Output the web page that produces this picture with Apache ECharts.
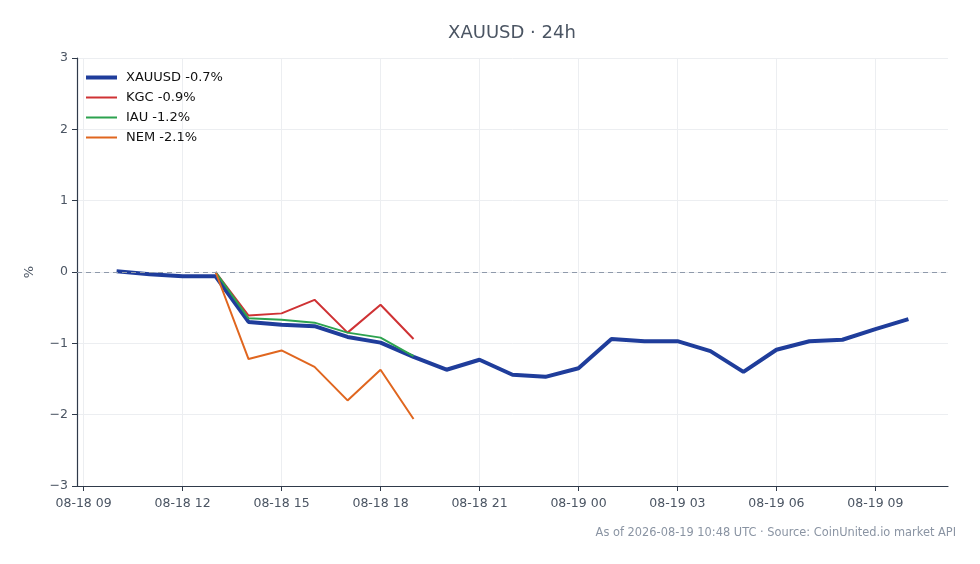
<!DOCTYPE html>
<html>
<head>
<meta charset="utf-8">
<script src="https://cdn.jsdelivr.net/npm/echarts@6/dist/echarts.min.js"></script>
<style>
  html, body { margin: 0; padding: 0; background: #fff; }
  #main { width: 980px; height: 564px; }
</style>
</head>
<body>
<div id="main"></div>
<script>
// hourly samples, UTC
var times = [
    '2026-08-18T10:00Z', '2026-08-18T11:00Z', '2026-08-18T12:00Z', '2026-08-18T13:00Z',
    '2026-08-18T14:00Z', '2026-08-18T15:00Z', '2026-08-18T16:00Z', '2026-08-18T17:00Z',
    '2026-08-18T18:00Z', '2026-08-18T19:00Z', '2026-08-18T20:00Z', '2026-08-18T21:00Z',
    '2026-08-18T22:00Z', '2026-08-18T23:00Z', '2026-08-19T00:00Z', '2026-08-19T01:00Z',
    '2026-08-19T02:00Z', '2026-08-19T03:00Z', '2026-08-19T04:00Z', '2026-08-19T05:00Z',
    '2026-08-19T06:00Z', '2026-08-19T07:00Z', '2026-08-19T08:00Z', '2026-08-19T09:00Z',
    '2026-08-19T10:00Z'
];
var xauusd = [0.01, -0.03, -0.06, -0.06, -0.70, -0.74, -0.76, -0.91, -0.99, -1.19, -1.37, -1.23,
    -1.44, -1.47, -1.35, -0.94, -0.97, -0.97, -1.11, -1.40, -1.09, -0.97, -0.95, -0.80, -0.66];
// stocks only trade 13:00 - 19:00
var stockTimes = times.slice(3, 10);
var kgc = [0.0, -0.61, -0.58, -0.39, -0.85, -0.46, -0.94];
var iau = [0.0, -0.65, -0.67, -0.71, -0.85, -0.92, -1.18];
var nem = [0.0, -1.22, -1.10, -1.33, -1.80, -1.37, -2.06];

var names = ['XAUUSD -0.7%', 'KGC -0.9%', 'IAU -1.2%', 'NEM -2.1%'];
var colors = ['#1f3d9b', '#cf3234', '#2ca24f', '#e0661f'];
var tickTimes = [
    '2026-08-18T09:00Z', '2026-08-18T12:00Z', '2026-08-18T15:00Z', '2026-08-18T18:00Z',
    '2026-08-18T21:00Z', '2026-08-19T00:00Z', '2026-08-19T03:00Z', '2026-08-19T06:00Z',
    '2026-08-19T09:00Z'
];

var ms = function (s) { return Date.parse(s); };
var pad = function (n) { return (n < 10 ? '0' : '') + n; };
var fmtTime = function (v) {
    var d = new Date(v);
    return pad(d.getUTCMonth() + 1) + '-' + pad(d.getUTCDate()) + ' ' + pad(d.getUTCHours());
};
var pairs = function (ts, vals) {
    return vals.map(function (v, i) { return [ms(ts[i]), v]; });
};

var span = ms(times[times.length - 1]) - ms(times[0]);
var xMin = ms(times[0]) - span * 0.05;
var xMax = ms(times[times.length - 1]) + span * 0.05;
var tickVals = tickTimes.map(ms);

// legend swatches: thick for the spot price, thin for the stocks
var thickIcon = 'path://M0,0h31v4h-31z';
var thinIcon = 'path://M0,0L31,0L0,0ZM0,1h31v2h-31zM0,4L31,4L0,4Z';

var font = 'DejaVu Sans';
var chart = echarts.init(document.getElementById('main'), null, { renderer: 'canvas' });
var option = {
    backgroundColor: '#ffffff',
    animation: false,
    textStyle: { fontFamily: font },
    title: {
        text: 'XAUUSD · 24h',
        left: 507,
        top: 19,
        textAlign: 'center',
        textStyle: { fontFamily: font, fontSize: 18, fontWeight: 'normal', color: '#4b5563' }
    },
    legend: {
        left: 81,
        top: 66,
        orient: 'vertical',
        itemWidth: 31,
        itemHeight: 4,
        itemGap: 7,
        textStyle: { fontFamily: font, fontSize: 13, color: '#111', padding: [0, 0, 0, 4] },
        data: names.map(function (n, i) {
            return { name: n, icon: i === 0 ? thickIcon : thinIcon, itemStyle: { color: colors[i] } };
        })
    },
    grid: { left: 77, right: 32, top: 58, bottom: 78 },
    xAxis: {
        type: 'value',
        min: xMin,
        max: xMax,
        axisLine: { show: true, onZero: false, lineStyle: { color: '#2f3a4a', width: 1.2 } },
        axisTick: { show: true, length: 5, customValues: tickVals, lineStyle: { color: '#2f3a4a' } },
        axisLabel: {
            customValues: tickVals,
            formatter: fmtTime,
            fontFamily: font, fontSize: 12.5, color: '#4b5563', margin: 11
        },
        splitLine: { show: true, lineStyle: { color: '#eceef1', width: 1 } }
    },
    yAxis: {
        type: 'value',
        min: -3,
        max: 3,
        interval: 1,
        name: '%',
        nameLocation: 'middle',
        nameGap: 41,
        nameRotate: 90,
        nameTextStyle: { fontFamily: font, fontSize: 13, color: '#4b5563' },
        axisLine: { show: true, lineStyle: { color: '#2f3a4a', width: 1.2 } },
        axisTick: { show: true, length: 5, lineStyle: { color: '#2f3a4a' } },
        axisLabel: {
            fontFamily: font, fontSize: 12.5, color: '#4b5563', margin: 9,
            formatter: function (v) { return String(v).replace('-', '\u2212'); }
        },
        splitLine: { show: true, lineStyle: { color: '#eceef1', width: 1 } }
    },
    series: [
        {
            name: names[0], type: 'line', data: pairs(times, xauusd),
            showSymbol: false, lineStyle: { width: 4, color: colors[0] }, itemStyle: { color: colors[0] },
            z: 2,
            markLine: {
                silent: true, symbol: 'none', label: { show: false },
                lineStyle: { type: [5, 4], color: '#8f9aab', width: 1 },
                data: [{ yAxis: 0 }]
            }
        },
        {
            name: names[1], type: 'line', data: pairs(stockTimes, kgc),
            showSymbol: false, lineStyle: { width: 2, color: colors[1] }, itemStyle: { color: colors[1] }, z: 3
        },
        {
            name: names[2], type: 'line', data: pairs(stockTimes, iau),
            showSymbol: false, lineStyle: { width: 2, color: colors[2] }, itemStyle: { color: colors[2] }, z: 3
        },
        {
            name: names[3], type: 'line', data: pairs(stockTimes, nem),
            showSymbol: false, lineStyle: { width: 2, color: colors[3] }, itemStyle: { color: colors[3] }, z: 3
        }
    ],
    graphic: [{
        type: 'text',
        right: 24,
        top: 528,
        style: {
            text: 'As of 2026-08-19 10:48 UTC · Source: CoinUnited.io market API',
            fontFamily: font, fontSize: 11.4, fill: '#8a94a3'
        }
    }]
};
chart.setOption(option);
</script>
</body>
</html>
